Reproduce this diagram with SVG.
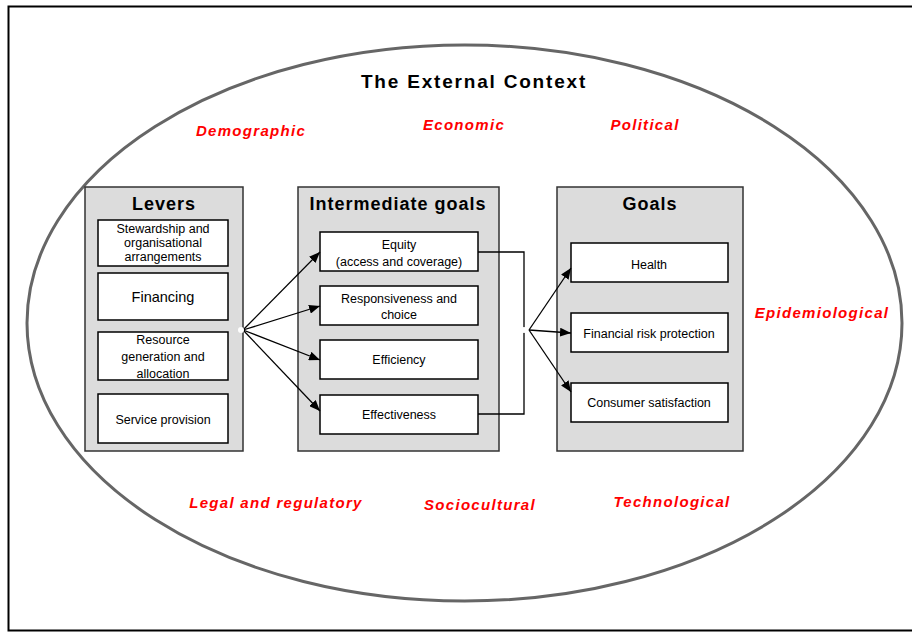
<svg xmlns="http://www.w3.org/2000/svg" width="912" height="633" viewBox="0 0 912 633">
  <style>
    .frame { fill: none; stroke: #000; stroke-width: 2; }
    .context { fill: none; stroke: #666; stroke-width: 3; }
    .panel { fill: #dcdcdc; stroke: #333; stroke-width: 1.5; }
    .box { fill: #fff; stroke: #000; stroke-width: 1.5; }
    .title { font-family: "Liberation Sans", Arial, sans-serif; font-weight: bold; font-size: 18px; letter-spacing: 1px; text-anchor: middle; fill: #000; }
    .main { font-family: "Liberation Sans", Arial, sans-serif; font-weight: bold; font-size: 19px; letter-spacing: 1.8px; text-anchor: middle; fill: #000; }
    .label { font-family: "Liberation Sans", Arial, sans-serif; font-size: 12.5px; text-anchor: middle; fill: #000; }
    .factor { font-family: "Liberation Sans", Arial, sans-serif; font-weight: bold; font-style: italic; font-size: 15px; letter-spacing: 1.3px; text-anchor: middle; fill: #ff0000; }
    .link { fill: none; stroke: #000; stroke-width: 1.3; }
    .dot { fill: #fff; stroke: none; }
  </style>
  <defs>
    <marker id="arrow" viewBox="0 0 11 9" refX="11" refY="4.5" markerWidth="11" markerHeight="9" markerUnits="userSpaceOnUse" orient="auto">
      <path d="M0,0 L11,4.5 L0,9 Z" fill="#000"/>
    </marker>
  </defs>

  <rect width="912" height="633" fill="#fff"/>
  <rect class="frame" x="8.5" y="6.5" width="920" height="624"/>

  <!-- external context -->
  <g id="context">
    <ellipse class="context" cx="464.5" cy="323" rx="437.5" ry="278"/>
    <text class="main" x="474" y="88">The External Context</text>
    <text class="factor" x="251" y="136">Demographic</text>
    <text class="factor" x="464" y="130">Economic</text>
    <text class="factor" x="645" y="130">Political</text>
    <text class="factor" x="822" y="318">Epidemiological</text>
    <text class="factor" x="276" y="508">Legal and regulatory</text>
    <text class="factor" x="480" y="510">Sociocultural</text>
    <text class="factor" x="672" y="507">Technological</text>
  </g>

  <!-- levers -->
  <g id="levers">
    <rect class="panel" x="85" y="187" width="158" height="264"/>
    <text class="title" x="164" y="210">Levers</text>
    <g id="stewardship">
      <rect class="box" x="98" y="220" width="130" height="46"/>
      <text class="label" x="163" y="233">Stewardship and</text>
      <text class="label" x="163" y="247">organisational</text>
      <text class="label" x="163" y="261">arrangements</text>
    </g>
    <g id="financing">
      <rect class="box" x="98" y="273" width="130" height="47"/>
      <text class="label" x="163" y="302" style="font-size:14.5px">Financing</text>
    </g>
    <g id="resource">
      <rect class="box" x="98" y="332" width="130" height="48"/>
      <text class="label" x="163" y="344">Resource</text>
      <text class="label" x="163" y="361">generation and</text>
      <text class="label" x="163" y="378">allocation</text>
    </g>
    <g id="service">
      <rect class="box" x="98" y="394" width="130" height="49"/>
      <text class="label" x="163" y="424">Service provision</text>
    </g>
  </g>

  <!-- intermediate goals -->
  <g id="intermediate">
    <rect class="panel" x="298" y="187" width="201" height="264"/>
    <text class="title" x="398" y="210">Intermediate goals</text>
    <g id="equity">
      <rect class="box" x="320" y="232" width="158" height="39"/>
      <text class="label" x="399" y="249">Equity</text>
      <text class="label" x="399" y="266">(access and coverage)</text>
    </g>
    <g id="responsiveness">
      <rect class="box" x="320" y="286" width="158" height="39"/>
      <text class="label" x="399" y="303">Responsiveness and</text>
      <text class="label" x="399" y="319">choice</text>
    </g>
    <g id="efficiency">
      <rect class="box" x="320" y="340" width="158" height="39"/>
      <text class="label" x="399" y="364">Efficiency</text>
    </g>
    <g id="effectiveness">
      <rect class="box" x="320" y="395" width="158" height="39"/>
      <text class="label" x="399" y="419">Effectiveness</text>
    </g>
  </g>

  <!-- goals -->
  <g id="goals">
    <rect class="panel" x="557" y="187" width="186" height="264"/>
    <text class="title" x="650" y="210">Goals</text>
    <g id="health">
      <rect class="box" x="571" y="243" width="157" height="39"/>
      <text class="label" x="649" y="269">Health</text>
    </g>
    <g id="financial">
      <rect class="box" x="571" y="313" width="157" height="39"/>
      <text class="label" x="649" y="338">Financial risk protection</text>
    </g>
    <g id="consumer">
      <rect class="box" x="571" y="383" width="157" height="39"/>
      <text class="label" x="649" y="407">Consumer satisfaction</text>
    </g>
  </g>

  <!-- connectors -->
  <g id="connectors">
    <line class="link" x1="243" y1="330" x2="320" y2="252" marker-end="url(#arrow)"/>
    <line class="link" x1="243" y1="330" x2="320" y2="306" marker-end="url(#arrow)"/>
    <line class="link" x1="243" y1="330" x2="320" y2="360" marker-end="url(#arrow)"/>
    <line class="link" x1="243" y1="330" x2="320" y2="411" marker-end="url(#arrow)"/>
    <circle class="dot" cx="241" cy="330" r="3"/>

    <polyline class="link" points="478,252 524,252 524,414 478,414"/>
    <circle class="dot" cx="524" cy="330" r="3"/>
    <line class="link" x1="529" y1="330" x2="571" y2="268" marker-end="url(#arrow)"/>
    <line class="link" x1="529" y1="330" x2="571" y2="333" marker-end="url(#arrow)"/>
    <line class="link" x1="529" y1="330" x2="571" y2="392" marker-end="url(#arrow)"/>
  </g>
</svg>
